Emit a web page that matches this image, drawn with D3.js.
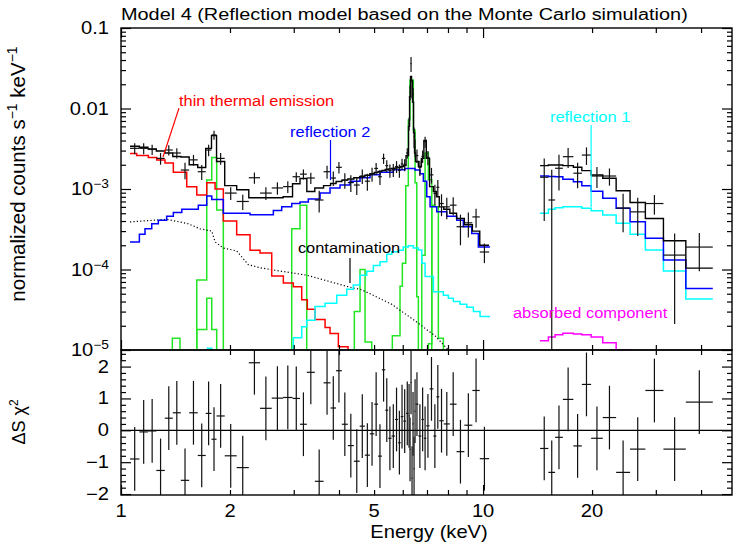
<!DOCTYPE html>
<html>
<head>
<meta charset="utf-8">
<script src="https://cdn.jsdelivr.net/npm/d3@7"></script>
<style>
  body { margin: 0; background: #fff; }
  text { font-family: "Liberation Sans", Arial, Helvetica, sans-serif; fill: #000; }
</style>
</head>
<body>
<script>
const width = 733,
  height = 551;

// ---- XIS (1-10 keV) spectrum: bin edges (keV), rate, error, total model, residual
const xisEdges = [1.059, 1.124, 1.187, 1.252, 1.321, 1.390, 1.463, 1.543, 1.629, 1.714, 1.778, 1.836, 1.934, 2.087,
  2.254, 2.421, 2.608, 2.803, 2.977, 3.122, 3.260, 3.430, 3.626, 3.791, 3.926, 4.073, 4.231, 4.396, 4.564, 4.715,
  4.868, 5.005, 5.128, 5.254, 5.369, 5.472, 5.588, 5.713, 5.823, 5.924, 6.022, 6.127, 6.225, 6.266, 6.305, 6.345,
  6.385, 6.427, 6.468, 6.509, 6.627, 6.755, 6.863, 6.969, 7.116, 7.291, 7.430, 7.569, 7.788, 8.095, 8.448, 8.878,
  9.342, 9.792, 10.39];
const xisRate = [3.2e-3, 3.2e-3, 3.1e-3, 2.4e-3, 3.05e-3, 2.8e-3, 1.72e-3, 2.3e-3, 1.64e-3, 3.05e-3,
  4.7e-3, 2.4e-3, 8.9e-4, 7.0e-4, 1.38e-3, 8.9e-4, 1.03e-3, 1.07e-3, 1.42e-3, 1.53e-3,
  1.37e-3, 7.3e-4, 1.64e-3, 1.37e-3, 1.86e-3, 1.29e-3, 1.2e-3, 1.12e-3, 1.45e-3, 1.25e-3,
  1.53e-3, 1.8e-3, 1.42e-3, 2.4e-3, 1.95e-3, 1.7e-3, 1.73e-3, 1.9e-3, 1.7e-3, 2.05e-3,
  2.0e-3, 2.8e-3, 6.5e-3, 0.016, 0.036, 0.018, 0.015, 4.5e-3, 3.3e-3, 2.6e-3,
  1.85e-3, 2.55e-3, 3.85e-3, 2.47e-3, 1.5e-3, 8.8e-4, 1.05e-3, 6.6e-4, 6.0e-4, 6.3e-4,
  3.4e-4, 3.8e-4, 4.5e-4, 1.65e-4];
const xisErr = [5e-4, 5e-4, 4.5e-4, 4e-4, 4.5e-4, 4e-4, 4e-4, 3.5e-4, 3.5e-4, 5e-4,
  6e-4, 4e-4, 1.6e-4, 1.5e-4, 2.2e-4, 1.6e-4, 1.8e-4, 1.8e-4, 2e-4, 2.2e-4,
  2.2e-4, 2.2e-4, 3e-4, 2.8e-4, 3e-4, 2.8e-4, 2.8e-4, 2.8e-4, 3e-4, 3e-4,
  3e-4, 3e-4, 3e-4, 3.5e-4, 3.2e-4, 3.2e-4, 3.2e-4, 3.2e-4, 3.2e-4, 3.2e-4,
  3.4e-4, 4e-4, 1.2e-3, 3.3e-3, 7.5e-3, 4.7e-3, 3e-3, 1.3e-3, 8e-4, 5e-4,
  4e-4, 4.5e-4, 6e-4, 5e-4, 3.3e-4, 2.5e-4, 2.4e-4, 2e-4, 1.8e-4, 1.6e-4,
  1.4e-4, 1.3e-4, 1.2e-4, 4.5e-5];
const xisModel = [3.4e-3, 3.3e-3, 3.15e-3, 2.97e-3, 2.8e-3, 2.53e-3, 2.5e-3, 2.0e-3, 1.85e-3, 3.2e-3,
  4.6e-3, 2.2e-3, 1.1e-3, 9.8e-4, 7.8e-4, 7.8e-4, 7.8e-4, 8.0e-4, 1.16e-3, 1.35e-3,
  9.3e-4, 1.03e-3, 1.1e-3, 1.17e-3, 1.24e-3, 1.29e-3, 1.33e-3, 1.38e-3, 1.42e-3, 1.48e-3,
  1.55e-3, 1.6e-3, 1.65e-3, 1.7e-3, 1.75e-3, 1.78e-3, 1.8e-3, 1.83e-3, 1.85e-3, 1.9e-3,
  1.95e-3, 2.6e-3, 6e-3, 0.014, 0.025, 0.022, 0.012, 5e-3, 2.8e-3, 2.2e-3,
  1.9e-3, 2.4e-3, 4.0e-3, 2.4e-3, 1.07e-3, 9.3e-4, 8.0e-4, 6.0e-4, 5.6e-4, 5.0e-4,
  4.3e-4, 3.6e-4, 3.0e-4, 2.0e-4];
const xisResid = [-0.90, -0.05, -0.02, -1.26, 0.38, 0.55, -1.57, 0.55, -0.79, 0.53,
  -0.28, 0.45, -0.80, -1.17, 2.12, 0.69, 1.01, 1.03, 1.0, 0.19,
  1.82, -1.6, 1.49, 0.70, 1.87, 0.19, -0.48, -0.97, 0.13, -0.78,
  -0.11, 0.82, -0.81, 1.9, 0.63, -0.25, -0.18, 0.34, -0.39, 0.43,
  0.29, 0.53, 0.45, -0.6, 1.5, -1.5, 0.2, -1.2, 0.6, 0.82,
  -0.18, 0.34, -0.25, 0.14, 1.30, -0.18, 1.05, 0.30, 0.20, 0.82,
  -0.67, 0.16, 1.25, -0.89];

// ---- HXD-PIN (15-43 keV) spectrum
const pinEdges = [14.37, 15.15, 15.81, 16.61, 17.76, 18.74, 19.88, 21.41, 23.31, 25.47, 28.07, 31.49, 36.31, 43.1];
const pinRate = [1.4e-3, 7.3e-4, 1.81e-3, 2.52e-3, 1.57e-3, 2.64e-3, 1.45e-3, 1.45e-3, 5.8e-4, 5.2e-4, 6.6e-4, 1.51e-4, 1.9e-4];
const pinErr = [1.0e-3, 1.0e-3, 8.5e-4, 7e-4, 5.5e-4, 6.5e-4, 4.2e-4, 3.5e-4, 2.9e-4, 2.6e-4, 1.8e-4, 1.3e-4, 9.5e-5];
const pinModel = [1.95e-3, 1.99e-3, 1.99e-3, 1.95e-3, 1.86e-3, 1.69e-3, 1.49e-3, 1.36e-3, 9.5e-4, 6.8e-4, 4.3e-4, 2.28e-4, 1.04e-4];
const pinResid = [-0.57, -1.32, -0.22, 0.97, -0.49, 1.44, -0.25, 0.40, -1.32, -0.59, 1.25, -0.59, 0.885];
const pinRefl2 = [1.45e-3, 1.43e-3, 1.42e-3, 1.32e-3, 1.23e-3, 1.10e-3, 9.4e-4, 7.7e-4, 5.75e-4, 3.93e-4, 2.44e-4, 1.31e-4, 5.8e-5];
const pinRefl1 = [4.99e-4, 5.6e-4, 5.86e-4, 6.03e-4, 6.03e-4, 5.75e-4, 5.38e-4, 4.75e-4, 3.75e-4, 2.74e-4, 1.75e-4, 9.6e-5, 4.3e-5];
const pinAbsorbed = [1.30e-5, 1.45e-5, 1.55e-5, 1.62e-5, 1.58e-5, 1.55e-5, 1.45e-5, 1.23e-5, 1.0e-5, 8e-6, 6e-6, 4e-6, 2e-6];

// ---- model components in the XIS band (step edges, values)
const thermalE = [1.059, 1.105, 1.190, 1.255, 1.323, 1.395, 1.519, 1.619, 1.725, 1.819, 1.917, 2.087, 2.272,
  2.421, 2.608, 2.808, 2.992, 3.156, 3.270, 3.435, 3.661, 3.779, 3.984, 4.237, 4.573];
const thermalV = [2.77e-3, 2.6e-3, 2.47e-3, 2.3e-3, 2.1e-3, 1.61e-3, 1.07e-3, 8.4e-4, 1.2e-3, 1.0e-3, 4.0e-4, 2.7e-4,
  1.74e-4, 1.6e-4, 8.3e-5, 6.8e-5, 6.1e-5, 4.2e-5, 3.2e-5, 2.4e-5, 1.9e-5, 1.6e-5, 1.1e-5, 8e-6];

const refl2E = [1.059, 1.124, 1.165, 1.216, 1.268, 1.337, 1.395, 1.472, 1.635, 1.725, 1.781, 1.917, 2.087, 2.272,
  2.635, 2.779, 2.962, 3.122, 3.291, 3.546, 3.779, 4.027, 4.291, 4.573, 4.874, 5.195, 5.652, 6.088, 6.489, 6.699,
  6.841, 6.991, 7.139, 7.450, 7.937, 8.458, 8.823, 9.307, 9.706, 10.45];
const refl2V = [2.2e-4, 2.75e-4, 3.2e-4, 3.7e-4, 4.1e-4, 4.6e-4, 5.1e-4, 5.6e-4, 6.3e-4, 8.2e-4,
  7.4e-4, 5.0e-4, 5.0e-4, 4.8e-4, 5.4e-4, 6.0e-4, 6.6e-4, 6.9e-4, 7.5e-4, 8.9e-4,
  1.03e-3, 1.12e-3, 1.25e-3, 1.38e-3, 1.5e-3, 1.62e-3, 1.73e-3, 1.8e-3, 1.72e-3, 1.55e-3,
  1.25e-3, 8.0e-4, 6.0e-4, 5.2e-4, 4.6e-4, 4.1e-4, 3.4e-4, 2.8e-4, 1.9e-4];

const refl1E = [1.725, 1.781, 2.808, 2.992, 3.156, 3.258, 3.435, 3.661, 3.944, 4.202, 4.382, 4.573, 4.772, 4.977,
  5.195, 5.420, 5.595, 5.834, 6.022, 6.216, 6.418, 6.627, 6.772, 6.916, 7.291, 7.768, 8.018, 8.279, 8.639, 9.015,
  9.402, 9.811, 10.45];
const refl1V = [1.05e-5, 5e-6, 1.0e-5, 1.42e-5, 1.95e-5, 2.34e-5, 3.47e-5, 3.8e-5, 4.8e-5, 5.7e-5,
  6.4e-5, 8.5e-5, 9.5e-5, 1.12e-4, 1.25e-4, 1.55e-4, 1.66e-4, 1.74e-4, 1.9e-4, 1.97e-4,
  1.85e-4, 1.75e-4, 1.2e-4, 8.2e-5, 5.3e-5, 4.8e-5, 4.4e-5, 4.0e-5, 3.7e-5, 3.4e-5, 3.0e-5, 2.6e-5];

const contE = [1.059, 1.337, 1.534, 1.653, 1.781, 1.819, 1.917, 2.087, 2.247, 2.421, 2.779, 3.258, 4.245, 4.622,
  5.595, 6.489, 7.370, 8.018, 8.4];
const contV = [3.9e-4, 4.2e-4, 3.7e-4, 3.2e-4, 3.0e-4, 2.2e-4, 1.85e-4, 1.7e-4, 1.15e-4, 1.05e-4, 9.5e-5, 8.5e-5,
  6.1e-5, 5.6e-5, 3.7e-5, 2.3e-5, 1.5e-5, 1.0e-5, 8e-6];

// gaussian emission lines (green)
const lineMgE = [1.386, 1.455], lineMgV = [1.4e-5];
const lineSiE = [1.619, 1.725, 1.781, 1.838, 1.917], lineSiV = [7.4e-5, 1.29e-3, 2.47e-3, 5.5e-4];
const lineSi2E = [1.619, 1.725, 1.781, 1.838], lineSi2V = [1.8e-5, 4.4e-5, 1.8e-5];
const lineArE = [2.962, 3.122, 3.258], lineArV = [3.2e-4, 6.3e-4];
const lineCaE = [4.410, 4.573, 4.721, 4.926], lineCaV = [3.0e-5, 1.0e-4, 1.26e-5];
const lineFeKaE = [5.616, 5.897, 5.985, 6.116, 6.216, 6.283, 6.418, 6.489, 6.560, 6.627];
const lineFeKaV = [1.5e-5, 6.2e-5, 1.2e-4, 1.1e-3, 7.2e-3, 0.0226, 5.4e-3, 1.2e-3, 4.6e-5];
const lineFeKbE = [6.772, 6.916, 7.062, 7.217], lineFeKbV = [1.5e-4, 2.8e-3, 1.3e-3];
const lineNiE = [7.062, 7.217, 7.370, 7.525, 7.768], lineNiV = [1.2e-5, 6.3e-4, 6.0e-4, 1.4e-5];

// tick labels
const xLabels = [1, 2, 5, 10, 20];
const yLabels = [[0.1, '0.1', ''], [0.01, '0.01', ''], [1e-3, '10', '\u22123'], [1e-4, '10', '\u22124'], [1e-5, '10', '\u22125']];
const rLabels = [[2, '2'], [1, '1'], [0, '0'], [-1, '\u22121'], [-2, '\u22122']];

// ---- layout
const pL = 121, pR = 732, pT = 28, pM = 350, pB = 495;
const SX = 1.15; // reference glyphs are a bit wider than tall

const x = d3.scaleLog().domain([1, 48.7]).range([pL, pR]);
const y = d3.scaleLog().domain([1e-5, 0.1]).range([pM, pT]);
const yr = d3.scaleLinear().domain([-2.03, 2.52]).range([pB, pM]);
const ly = v => y(Math.max(v, 1e-7));

const svg = d3.select('body').append('svg')
  .attr('width', width)
  .attr('height', height);

const defs = svg.append('defs');
defs.append('clipPath').attr('id', 'clipTop').append('rect')
  .attr('x', pL).attr('y', pT).attr('width', pR - pL).attr('height', pM - pT);
defs.append('clipPath').attr('id', 'clipBot').append('rect')
  .attr('x', pL).attr('y', pM).attr('width', pR - pL).attr('height', pB - pM);

const gTop = svg.append('g').attr('clip-path', 'url(#clipTop)');
const gBot = svg.append('g').attr('clip-path', 'url(#clipBot)');

const line = d3.line().x(d => x(d[0])).y(d => ly(d[1]));

function steps(edges, vals, closed) {
  const pts = [];
  if (closed) pts.push([edges[0], 1e-7]);
  vals.forEach((v, i) => pts.push([edges[i], v], [edges[i + 1], v]));
  if (closed) pts.push([edges[edges.length - 1], 1e-7]);
  return pts;
}

function drawStep(edges, vals, color, closed, w) {
  gTop.append('path')
    .datum(steps(edges, vals, closed))
    .attr('fill', 'none')
    .attr('stroke', color)
    .attr('stroke-width', w || 1.5)
    .attr('d', line);
}

// green lines
const green = '#22e622';
[[lineMgE, lineMgV], [lineSi2E, lineSi2V], [lineSiE, lineSiV], [lineArE, lineArV], [lineCaE, lineCaV],
  [lineFeKaE, lineFeKaV], [lineFeKbE, lineFeKbV], [lineNiE, lineNiV]]
  .forEach(d => drawStep(d[0], d[1], green, true));

// contamination (dotted)
gTop.append('path')
  .datum(contE.map((e, i) => [e, contV[i]]))
  .attr('fill', 'none')
  .attr('stroke', '#000')
  .attr('stroke-width', 1.2)
  .attr('stroke-dasharray', '1.2,2.2')
  .attr('d', line);

drawStep(thermalE, thermalV, '#ff0000');
drawStep(refl1E, refl1V, '#00ffff');
drawStep(pinEdges, pinRefl1, '#00ffff');
drawStep(refl2E, refl2V, '#0000ff');
drawStep(pinEdges, pinRefl2, '#0000ff');
drawStep(pinEdges, pinAbsorbed, '#ff00ff');
drawStep(xisEdges, xisModel, '#000', false, 1.4);
drawStep(pinEdges, pinModel, '#000', false, 1.4);

// data crosses
function crosses(edges, rate, err) {
  const g = gTop.append('g').attr('stroke', '#111').attr('stroke-width', 1.2);
  rate.forEach((v, i) => {
    const e0 = edges[i], e1 = edges[i + 1], ec = Math.sqrt(e0 * e1);
    g.append('line').attr('x1', x(e0)).attr('x2', x(e1)).attr('y1', ly(v)).attr('y2', ly(v));
    g.append('line').attr('x1', x(ec)).attr('x2', x(ec)).attr('y1', ly(v - err[i])).attr('y2', ly(v + err[i]));
  });
}
crosses(xisEdges, xisRate, xisErr);
crosses(pinEdges, pinRate, pinErr);

// residuals
gBot.append('line').attr('x1', pL).attr('x2', pR).attr('y1', yr(0)).attr('y2', yr(0))
  .attr('stroke', '#000').attr('stroke-width', 1.2);
function resids(edges, res) {
  const g = gBot.append('g').attr('stroke', '#111').attr('stroke-width', 1.2);
  res.forEach((r, i) => {
    const e0 = edges[i], e1 = edges[i + 1], ec = Math.sqrt(e0 * e1);
    g.append('line').attr('x1', x(e0)).attr('x2', x(e1)).attr('y1', yr(r)).attr('y2', yr(r));
    g.append('line').attr('x1', x(ec)).attr('x2', x(ec)).attr('y1', yr(r - 1)).attr('y2', yr(r + 1));
  });
}
resids(xisEdges, xisResid);
resids(pinEdges, pinResid);

// ---- frames and ticks
[[pT, pM], [pM, pB]].forEach(([a, b]) => {
  svg.append('rect').attr('x', pL).attr('y', a).attr('width', pR - pL).attr('height', b - a)
    .attr('fill', 'none').attr('stroke', '#000').attr('stroke-width', 1.4);
});

function drawAxis(axis, tx, ty) {
  const g = svg.append('g').attr('transform', `translate(${tx},${ty})`).call(axis);
  g.select('.domain').remove();
  g.selectAll('text').remove();
  g.selectAll('line').attr('stroke', '#000').attr('stroke-width', 1.2);
}
const xMinor = [2, 3, 4, 5, 6, 7, 8, 9, 20, 30, 40];
const xMajor = [1, 10];
[[pM, d3.axisBottom], [pB, d3.axisBottom], [pT, d3.axisTop], [pM, d3.axisTop]].forEach(([ty, ax]) => {
  drawAxis(ax(x).tickValues(xMinor).tickSize(-5), 0, ty);
  drawAxis(ax(x).tickValues(xMajor).tickSize(-10), 0, ty);
});

const yMajor = [1e-5, 1e-4, 1e-3, 1e-2, 1e-1];
const yMinor = [];
yMajor.slice(0, 4).forEach(d => { for (let k = 2; k <= 9; k++) yMinor.push(k * d); });
drawAxis(d3.axisLeft(y).tickValues(yMinor).tickSize(-5), pL, 0);
drawAxis(d3.axisLeft(y).tickValues(yMajor).tickSize(-10), pL, 0);
drawAxis(d3.axisRight(y).tickValues(yMinor).tickSize(-5), pR, 0);
drawAxis(d3.axisRight(y).tickValues(yMajor).tickSize(-10), pR, 0);

const rMajor = [-2, -1, 0, 1, 2];
const rMinor = d3.range(-20, 26, 2).map(d => d / 10).filter(d => !Number.isInteger(d));
drawAxis(d3.axisLeft(yr).tickValues(rMinor).tickSize(-5), pL, 0);
drawAxis(d3.axisLeft(yr).tickValues(rMajor).tickSize(-10), pL, 0);
drawAxis(d3.axisRight(yr).tickValues(rMinor).tickSize(-5), pR, 0);
drawAxis(d3.axisRight(yr).tickValues(rMajor).tickSize(-10), pR, 0);

// ---- text
function label(px, py, anchor, size, color) {
  return svg.append('text')
    .attr('transform', `translate(${px},${py}) scale(${SX},1)`)
    .attr('text-anchor', anchor)
    .attr('font-size', size)
    .style('fill', color || '#000');
}

label(pL, 20, 'start', 17.3).text('Model 4 (Reflection model based on the Monte Carlo simulation)');

xLabels.forEach(v => label(x(v), 517, 'middle', 17.5).text(v));
label(429, 538, 'middle', 17.5).text('Energy (keV)');

yLabels.forEach(([v, base, sup]) => {
  const t = label(109, y(v) + 6, 'end', 17.5).text(base);
  if (sup) t.append('tspan').attr('dy', -7).attr('font-size', 12).text(sup);
});
rLabels.forEach(([v, s]) => label(109, yr(v) + 6, 'end', 17.5).text(s));

const yt = svg.append('text')
  .attr('transform', 'translate(25,174) rotate(-90)')
  .attr('text-anchor', 'middle')
  .attr('font-size', 20.5)
  .text('normalized counts s');
yt.append('tspan').attr('dy', -8).attr('font-size', 14).text('\u22121');
yt.append('tspan').attr('dy', 8).text(' keV');
yt.append('tspan').attr('dy', -8).attr('font-size', 14).text('\u22121');

const rt = svg.append('text')
  .attr('transform', 'translate(25,422) rotate(-90)')
  .attr('text-anchor', 'middle')
  .attr('font-size', 18)
  .text('\u0394S \u03c7');
rt.append('tspan').attr('dy', -7).attr('font-size', 12).text('2');

// ---- component annotations (anchored in data coordinates)
const notes = [
  { text: 'thin thermal emission', color: '#ff0000', at: [1.446, 0.0107], ptr: [[1.446, 0.0101], [1.306, 2.5e-3]] },
  { text: 'reflection 2', color: '#0000ff', at: [2.93, 4.43e-3], ptr: [[3.79, 4.06e-3], [3.79, 1.29e-3]] },
  { text: 'reflection 1', color: '#00ffff', at: [15.3, 6.8e-3], ptr: [[19.88, 6.24e-3], [19.88, 5.97e-4]] },
  { text: 'contamination', color: '#000', at: [3.08, 1.6e-4], ptr: [[4.29, 1.39e-4], [4.29, 6.8e-5]] },
  { text: 'absorbed component', color: '#ff00ff', at: [12.09, 2.5e-5], ptr: null }
];
notes.forEach(n => {
  label(x(n.at[0]), y(n.at[1]), 'start', 14.3, n.color).text(n.text);
  if (n.ptr) {
    svg.append('path').datum(n.ptr)
      .attr('fill', 'none').attr('stroke', n.color).attr('stroke-width', 1.2)
      .attr('d', line);
  }
});
</script>
</body>
</html>
